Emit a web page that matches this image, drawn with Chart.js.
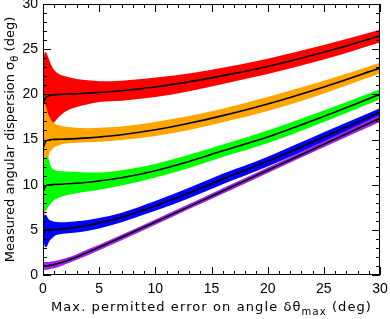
<!DOCTYPE html>
<html>
<head>
<meta charset="utf-8">
<script src="https://cdn.jsdelivr.net/npm/chart.js@4.4.1/dist/chart.umd.min.js"></script>
<style>
  html, body { margin: 0; padding: 0; background: #fff; }
  #wrap { width: 390px; height: 319px; }
</style>
</head>
<body>
<div id="wrap"><canvas id="chart"></canvas></div>
<script>
// x positions (max permitted error, deg)
const deltaMax = [0, 0.1, 0.2, 0.3, 0.5, 0.75, 1, 1.5, 2, 3, 4, 5, 7, 10, 13, 16, 20, 25, 30];

// sigma = 20 (red)
const redMid  = [18.7, 19.2, 19.5, 19.7, 19.85, 19.9, 19.95, 20.0, 20.03, 20.07, 20.13, 20.21, 20.4, 20.82, 21.38, 22.07, 23.09, 24.66, 26.46];
const redHigh = [24.0, 24.4, 24.7, 24.6, 24.0, 23.2, 22.7, 22.2, 22.0, 21.7, 21.55, 21.45, 21.5, 21.85, 22.3, 22.95, 23.95, 25.45, 27.15];
const redLow  = [18.0, 17.0, 16.4, 16.2, 16.3, 16.5, 16.9, 17.6, 18.1, 18.6, 18.9, 19.15, 19.3, 19.7, 20.35, 21.15, 22.25, 23.85, 25.75];

// sigma = 15 (orange)
const orangeMid  = [14.0, 14.4, 14.7, 14.85, 14.95, 15.0, 15.01, 15.02, 15.04, 15.1, 15.18, 15.28, 15.53, 16.07, 16.79, 17.64, 18.93, 20.82, 22.91];
const orangeHigh = [19.0, 19.1, 18.9, 18.5, 17.7, 17.1, 16.8, 16.55, 16.4, 16.3, 16.25, 16.3, 16.45, 16.95, 17.6, 18.4, 19.7, 21.5, 23.5];
const orangeLow  = [8.0, 6.8, 6.6, 9.5, 13.1, 13.8, 14.15, 14.4, 14.55, 14.65, 14.7, 14.75, 14.95, 15.4, 16.05, 16.9, 18.15, 20.1, 22.3];

// sigma = 10 (green)
const greenMid  = [9.2, 9.5, 9.75, 9.9, 9.98, 10.0, 10.02, 10.04, 10.07, 10.15, 10.26, 10.41, 10.77, 11.55, 12.57, 13.75, 15.28, 17.56, 20.0];
const greenHigh = [11.8, 12.4, 12.9, 13.2, 12.8, 11.9, 11.65, 11.5, 11.45, 11.4, 11.35, 11.35, 11.6, 12.3, 13.3, 14.45, 16.0, 18.2, 20.55];
const greenLow  = [7.4, 7.2, 7.1, 7.2, 7.6, 8.0, 8.3, 8.6, 8.8, 9.05, 9.25, 9.45, 9.9, 10.8, 11.85, 13.05, 14.6, 16.95, 19.45];

// sigma = 5 (blue)
const blueMid  = [4.5, 4.8, 4.95, 5.0, 5.01, 5.02, 5.03, 5.07, 5.13, 5.29, 5.51, 5.77, 6.38, 7.64, 9.07, 10.63, 12.58, 15.28, 18.03];
const blueHigh = [6.4, 6.6, 6.7, 6.6, 6.2, 6.0, 5.9, 5.85, 5.85, 5.95, 6.1, 6.3, 6.9, 8.2, 9.65, 11.2, 13.1, 15.8, 18.45];
const blueLow  = [4.0, 3.4, 3.1, 3.1, 3.6, 4.0, 4.3, 4.5, 4.6, 4.7, 4.9, 5.15, 5.85, 7.1, 8.5, 10.05, 12.0, 14.75, 17.55];

// sigma ~ 1 (purple)
const purpleMid  = [1.0, 1.0, 1.01, 1.01, 1.04, 1.09, 1.15, 1.32, 1.53, 2.0, 2.52, 3.06, 4.17, 5.86, 7.57, 9.29, 11.59, 14.47, 17.35];
const purpleHigh = [1.45, 1.45, 1.45, 1.45, 1.45, 1.5, 1.55, 1.7, 1.85, 2.3, 2.85, 3.35, 4.45, 6.15, 7.85, 9.6, 11.9, 14.8, 17.75];
const purpleLow  = [0.55, 0.55, 0.55, 0.57, 0.62, 0.68, 0.75, 0.95, 1.2, 1.7, 2.2, 2.75, 3.85, 5.55, 7.3, 9.0, 11.3, 14.15, 16.95];

const axisMin = 0;
const axisMax = 30;

// draw order: first band at the bottom
const bands = [
    { color: '#ff0000', high: redHigh,    low: redLow,    mid: redMid },
    { color: '#ffa500', high: orangeHigh, low: orangeLow, mid: orangeMid },
    { color: '#00ff00', high: greenHigh,  low: greenLow,  mid: greenMid },
    { color: '#0000ff', high: blueHigh,   low: blueLow,   mid: blueMid },
    { color: '#a020f0', high: purpleHigh, low: purpleLow, mid: purpleMid }
];

const toPoints = ys => deltaMax.map((x, i) => ({ x: x, y: ys[i] }));

const datasets = [];
bands.forEach((b, k) => {
    const order = 10 * (bands.length - k);
    const lowIndex = datasets.length + 1;
    datasets.push({
        data: toPoints(b.high),
        fill: lowIndex,
        backgroundColor: b.color,
        borderColor: b.color,
        borderWidth: 0,
        order: order
    });
    datasets.push({
        data: toPoints(b.low),
        fill: false,
        borderColor: b.color,
        borderWidth: 0,
        order: order
    });
});
bands.forEach(b => {
    datasets.push({
        data: toPoints(b.mid),
        fill: false,
        borderColor: '#000',
        borderWidth: 1.6,
        order: 0
    });
});

// -----------------------------
// frame, inward ticks and titles
// -----------------------------
const TITLE_FONT = '13px "DejaVu Sans"';
const SUB_FONT = '10px "DejaVu Sans"';

function drawParts(ctx, parts, cx, cy, spacing) {
    ctx.letterSpacing = spacing + 'px';
    let total = 0;
    parts.forEach(p => { ctx.font = p.sub ? SUB_FONT : TITLE_FONT; total += ctx.measureText(p.text).width; });
    let pos = cx - total / 2;
    parts.forEach(p => {
        ctx.font = p.sub ? SUB_FONT : TITLE_FONT;
        ctx.fillText(p.text, pos, cy + (p.sub ? 4 : 0));
        pos += ctx.measureText(p.text).width;
    });
    ctx.letterSpacing = '0px';
}

const idlFrame = {
    id: 'idlFrame',
    afterDraw(chart) {
        const { ctx, chartArea: a, scales: { x, y } } = chart;
        ctx.save();
        ctx.strokeStyle = '#000';
        ctx.lineWidth = 1;
        ctx.strokeRect(a.left + 0.5, a.top + 0.5, a.right - a.left - 1, a.bottom - a.top - 1);
        ctx.beginPath();
        for (let v = axisMin; v <= axisMax; v++) {
            const len = v % 5 === 0 ? 8 : 4;
            const px = Math.round(x.getPixelForValue(v)) + 0.5;
            ctx.moveTo(px, a.bottom); ctx.lineTo(px, a.bottom - len);
            ctx.moveTo(px, a.top); ctx.lineTo(px, a.top + len);
            const py = Math.round(y.getPixelForValue(v)) + 0.5;
            ctx.moveTo(a.left, py); ctx.lineTo(a.left + len, py);
            ctx.moveTo(a.right, py); ctx.lineTo(a.right - len, py);
        }
        ctx.stroke();

        ctx.fillStyle = '#000';
        ctx.textBaseline = 'alphabetic';
        drawParts(ctx, [
            { text: 'Max. permitted error on angle δθ' },
            { text: 'max', sub: true },
            { text: ' (deg)' }
        ], (a.left + a.right) / 2, 311, 1.1);

        ctx.translate(14, (a.top + a.bottom) / 2);
        ctx.rotate(-Math.PI / 2);
        drawParts(ctx, [
            { text: 'Measured angular dispersion σ' },
            { text: 'θ', sub: true },
            { text: ' (deg)' }
        ], 0, 0, 0);
        ctx.restore();
    }
};

const tickFont = { family: '"Liberation Sans"', size: 14 };

new Chart(document.getElementById('chart'), {
    type: 'line',
    data: { datasets: datasets },
    options: {
        responsive: true,
        maintainAspectRatio: false,
        animation: false,
        layout: { padding: { top: 4, right: 10, left: 0, bottom: 0 } },
        elements: {
            point: { radius: 0, hoverRadius: 0 },
            line: { cubicInterpolationMode: 'monotone' }
        },
        plugins: {
            legend: { display: false },
            tooltip: { enabled: false },
            filler: { propagate: false }
        },
        scales: {
            x: {
                type: 'linear',
                min: axisMin,
                max: axisMax,
                border: { display: false },
                grid: { display: false, drawTicks: false },
                ticks: { stepSize: 5, color: '#000', font: tickFont, padding: 6, maxRotation: 0 },
                afterFit(scale) {
                    scale.height = 44;
                    scale.paddingLeft = 0; scale.paddingRight = 0;
                }
            },
            y: {
                type: 'linear',
                min: axisMin,
                max: axisMax,
                border: { display: false },
                grid: { display: false, drawTicks: false },
                ticks: { stepSize: 5, color: '#000', font: tickFont, padding: 5 },
                afterFit(scale) {
                    scale.width = 43;
                    scale.paddingTop = 0; scale.paddingBottom = 0;
                }
            }
        }
    },
    plugins: [idlFrame]
});
</script>
</body>
</html>
